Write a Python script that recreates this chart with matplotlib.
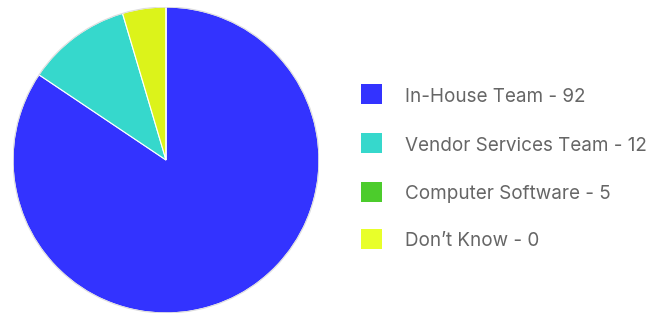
import matplotlib
matplotlib.use("Agg")
import matplotlib.pyplot as plt
from matplotlib.patches import Rectangle

labels = ["In-House Team", "Vendor Services Team", "Computer Software", "Don\u2019t Know"]
values = [92, 12, 5, 0]
legend_colors = ["#3333ff", "#36d8cc", "#4ccc2c", "#e8ff2a"]
slice_colors = ["#3333ff", "#36d8cc", "#dcf31a", "#e8ff2a"]

W, H = 650, 314
fig = plt.figure(figsize=(W / 100, H / 100), dpi=100)

# pie: centre (166,160) px, radius 153 px
ax = fig.add_axes([13 / W, 1 / H, 306 / W, 306 / H])
ax.pie(values, colors=slice_colors, startangle=90, counterclock=False, radius=1,
       wedgeprops=dict(edgecolor="white", linewidth=0.8))
ax.add_patch(plt.Circle((0, 0), 1, fill=False, edgecolor="#dddddd", linewidth=0.8))
ax.set_xlim(-1.0, 1.0)
ax.set_ylim(-1.0, 1.0)
ax.set_aspect("equal")
ax.axis("off")

# legend
row_y = [94, 143.5, 191.5, 239]
for lab, val, col, yc in zip(labels, values, legend_colors, row_y):
    fig.patches.append(Rectangle((361 / W, (H - yc - 10) / H), 21 / W, 20 / H,
                                 transform=fig.transFigure, facecolor=col, edgecolor="none"))
    fig.text(405 / W, (H - yc - 7.5) / H, f"{lab} - {val}", fontsize=13.6, color="#666666",
             family="Inter", va="baseline", ha="left")

fig.savefig("out.png", dpi=100, facecolor="white")
